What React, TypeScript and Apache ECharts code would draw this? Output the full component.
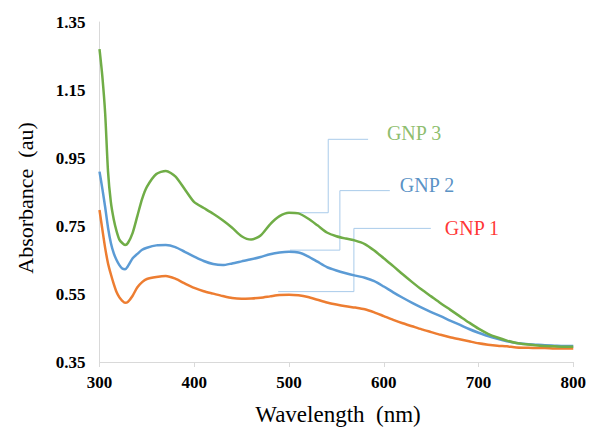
import React, { useEffect, useRef } from "react";
import * as echarts from "echarts";

const wavelengths = [
  300, 303, 306, 309, 312, 315, 318, 321, 324, 327, 330, 335, 340, 345, 350,
  360, 370, 380, 390, 400, 410, 420, 430, 440, 450, 460, 470, 480, 490, 500,
  510, 520, 530, 540, 550, 560, 570, 580, 590, 600, 610, 620, 630, 640, 650,
  660, 670, 680, 690, 700, 710, 720, 730, 740, 750, 760, 770, 780, 790, 800,
];

const gnp3 = [
  1.27, 1.19, 1.08, 0.91, 0.82, 0.77, 0.735, 0.71, 0.7, 0.694, 0.7, 0.73, 0.78, 0.83, 0.865,
  0.903, 0.912, 0.896, 0.858, 0.82, 0.803, 0.786, 0.767, 0.745, 0.72, 0.71, 0.722, 0.755, 0.779, 0.789,
  0.787, 0.772, 0.752, 0.731, 0.72, 0.713, 0.707, 0.697, 0.678, 0.655, 0.632, 0.608, 0.585, 0.563, 0.543,
  0.523, 0.504, 0.485, 0.466, 0.448, 0.433, 0.422, 0.413, 0.406, 0.402, 0.399, 0.397, 0.396, 0.395, 0.395,
];

const gnp2 = [
  0.91, 0.86, 0.805, 0.745, 0.7, 0.67, 0.65, 0.635, 0.625, 0.623, 0.632, 0.655, 0.668, 0.68, 0.686,
  0.693, 0.694, 0.688, 0.674, 0.66, 0.647, 0.638, 0.635, 0.64, 0.646, 0.652, 0.659, 0.667, 0.672, 0.674,
  0.672, 0.661, 0.645, 0.629, 0.619, 0.611, 0.604, 0.598, 0.588, 0.572, 0.555, 0.539, 0.524, 0.51, 0.497,
  0.485, 0.472, 0.46, 0.447, 0.436, 0.426, 0.418, 0.411, 0.406, 0.403, 0.401, 0.399, 0.398, 0.397, 0.397,
];

const gnp1 = [
  0.797, 0.74, 0.685, 0.64, 0.608, 0.58, 0.556, 0.54, 0.53, 0.524, 0.527, 0.545, 0.57, 0.585, 0.594,
  0.6, 0.603, 0.595, 0.581, 0.568, 0.558, 0.551, 0.544, 0.538, 0.536, 0.537, 0.539, 0.543, 0.547, 0.548,
  0.546, 0.541, 0.533, 0.525, 0.519, 0.514, 0.51, 0.505, 0.496, 0.485, 0.474, 0.464, 0.455, 0.446, 0.438,
  0.43, 0.423, 0.417, 0.411, 0.405, 0.401, 0.398, 0.396, 0.393, 0.392, 0.391, 0.391, 0.39, 0.39, 0.39,
];

const seriesNames = ["GNP 1", "GNP 2", "GNP 3"];
const seriesColors = ["#ED7D31", "#5B9BD5", "#70AD47"];
const labelColors = ["#FF0000", "#2E75B6", "#70AD47"];

// leader lines (wavelength, absorbance) for each label
const leader1 = [[488.6, 0.557], [568.5, 0.557], [568.5, 0.743], [649.7, 0.743]];
const leader2 = [[501, 0.679], [553.7, 0.679], [553.7, 0.854], [606.4, 0.854]];
const leader3 = [[506.2, 0.789], [541.4, 0.789], [541.4, 1.005], [583.5, 1.005]];
// label anchor positions (left edge, vertical middle)
const labelAnchors = [[664.4, 0.744], [617, 0.871], [603.3, 1.0235]];

const yTicks = [0.35, 0.55, 0.75, 0.95, 1.15, 1.35];
const xTicks = [300, 400, 500, 600, 700, 800];

export default function App() {
  const ref = useRef<HTMLDivElement>(null);

  useEffect(() => {
    document.body.style.margin = "0";
    if (!ref.current) return;
    const chart = echarts.init(ref.current, undefined, { renderer: "svg" });
    const values = [gnp1, gnp2, gnp3];
    const leaders = [leader1, leader2, leader3];
    const serif = "Liberation Serif";

    const leaderSeries = leaders.map((pts) => ({
      type: "line",
      data: pts,
      symbol: "none",
      silent: true,
      z: 1,
      lineStyle: { color: "#A9CBEA", width: 1 },
    }));

    const curveSeries = values.map((vals, i) => ({
      name: seriesNames[i],
      type: "line",
      data: wavelengths.map((w, k) => [w, vals[k]]),
      symbol: "none",
      smooth: 0.25,
      z: 3,
      lineStyle: { color: seriesColors[i], width: 2.5 },
    }));

    const labelSeries = labelAnchors.map((p, i) => ({
      type: "scatter",
      data: [p],
      symbolSize: 0,
      silent: true,
      z: 4,
      label: {
        show: true,
        position: "right",
        distance: 0,
        formatter: seriesNames[i],
        color: labelColors[i],
        fontFamily: serif,
        fontSize: 20,
      },
    }));

    chart.setOption({
      animation: false,
      backgroundColor: "#ffffff",
      grid: { left: 99.5, right: 15.5, top: 22, bottom: 65 },
      xAxis: {
        type: "value",
        min: xTicks[0],
        max: xTicks[xTicks.length - 1],
        interval: 100,
        axisLine: { show: true, lineStyle: { color: "#D9D9D9", width: 1 } },
        axisTick: { show: true, length: 5, lineStyle: { color: "#D9D9D9" } },
        splitLine: { show: false },
        axisLabel: {
          color: "#000",
          fontFamily: serif,
          fontWeight: "bold",
          fontSize: 17,
          margin: 12,
        },
      },
      yAxis: {
        type: "value",
        min: yTicks[0],
        max: yTicks[yTicks.length - 1],
        interval: 0.2,
        axisLine: { show: true, lineStyle: { color: "#D9D9D9", width: 1 } },
        axisTick: { show: false },
        splitLine: { show: false },
        axisLabel: {
          color: "#000",
          fontFamily: serif,
          fontWeight: "bold",
          fontSize: 17,
          margin: 14,
          formatter: (v: number) => v.toFixed(2),
        },
      },
      graphic: [
        {
          type: "text",
          x: 25,
          y: 198,
          rotation: Math.PI / 2,
          style: {
            text: "Absorbance  (au)",
            fontFamily: serif,
            fontSize: 22,
            fill: "#000",
            align: "center",
            verticalAlign: "middle",
          },
        },
        {
          type: "text",
          x: 338,
          y: 414,
          style: {
            text: "Wavelength  (nm)",
            fontFamily: serif,
            fontSize: 23,
            fill: "#000",
            align: "center",
            verticalAlign: "middle",
          },
        },
      ],
      series: [...leaderSeries, ...curveSeries, ...labelSeries],
    });

    return () => chart.dispose();
  }, []);

  return <div ref={ref} style={{ width: 589, height: 427 }} />;
}
